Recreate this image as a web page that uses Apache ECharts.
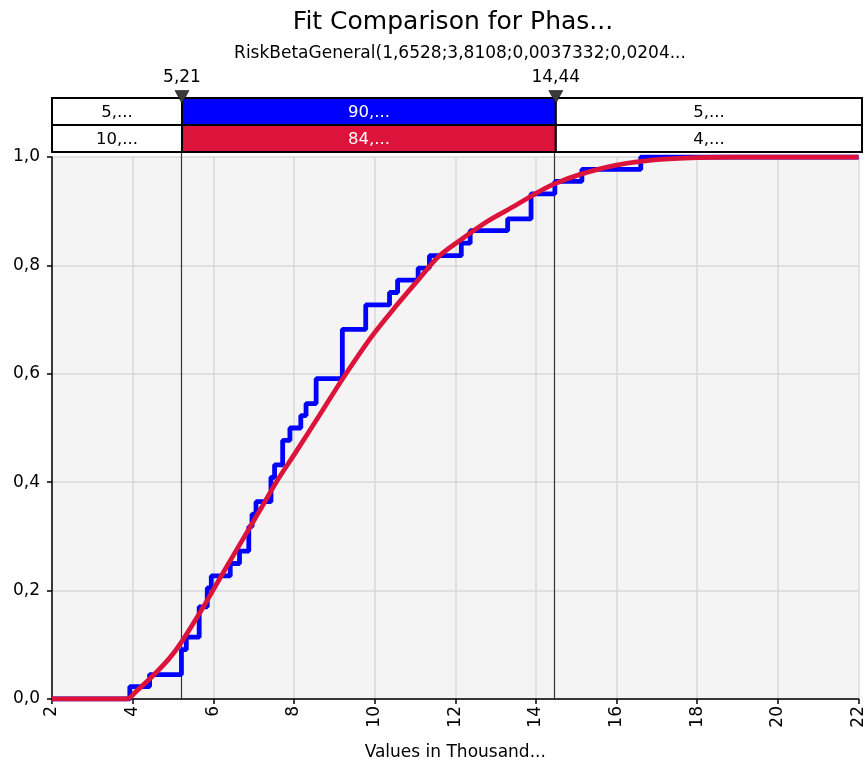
<!DOCTYPE html>
<html>
<head>
<meta charset="utf-8">
<script src="https://cdn.jsdelivr.net/npm/echarts@6/dist/echarts.min.js"></script>
<style>
html, body { margin: 0; padding: 0; background: #fff; }
#main { width: 867px; height: 766px; }
</style>
</head>
<body>
<div id="main"></div>
<script>
const inputX = [2, 3.93, 4.42, 5.21, 5.33, 5.65, 5.85, 5.95, 6.42, 6.65, 6.88, 6.96, 7.06, 7.43, 7.52, 7.72, 7.9, 8.17, 8.3, 8.55, 9.2, 9.78, 10.37, 10.57, 11.08, 11.36, 12.15, 12.37, 13.3, 13.88, 14.47, 15.14, 16.6, 22];
const inputY = [0, 0.023, 0.045, 0.091, 0.114, 0.17, 0.205, 0.227, 0.25, 0.273, 0.318, 0.341, 0.364, 0.409, 0.432, 0.477, 0.5, 0.523, 0.545, 0.591, 0.682, 0.727, 0.75, 0.773, 0.795, 0.818, 0.841, 0.864, 0.886, 0.932, 0.955, 0.977, 1, 1];

// fitted curve, sampled by eye
const fitX = [2, 3.85, 4.1, 4.49, 4.91, 5.21, 5.73, 6.15, 6.64, 7.21, 7.56, 8.05, 8.62, 9.2, 9.93, 10.52, 11.09, 11.58, 12.15, 12.81, 13.48, 14.0, 14.44, 15.1, 16, 17, 18, 19, 22];
const fitY = [0, 0, 0.015, 0.042, 0.075, 0.105, 0.167, 0.221, 0.283, 0.355, 0.4, 0.456, 0.522, 0.59, 0.669, 0.724, 0.774, 0.816, 0.848, 0.882, 0.91, 0.933, 0.95, 0.968, 0.985, 0.995, 0.999, 1, 1];

const cutoffs = [5.21, 14.44];
const cutoffLabels = ['5,21', '14,44'];
const inputShares = ['5,...', '90,...', '5,...'];
const fitShares = ['10,...', '84,...', '4,...'];
const xTicks = [2, 4, 6, 8, 10, 12, 14, 16, 18, 20, 22];

const BLUE = '#0000FF';
const RED = '#DC143C';
const FONT = 'DejaVu Sans';

const pairs = (xs, ys) => xs.map((x, i) => [x, ys[i]]);

// band cells: [from, to, row, column]
const edges = [xTicks[0], cutoffs[0], cutoffs[1], xTicks[xTicks.length - 1]];
const bandCells = [];
[inputShares, fitShares].forEach((row, r) => {
  row.forEach((txt, c) => bandCells.push([edges[c], edges[c + 1], r, c]));
});

const chart = echarts.init(document.getElementById('main'), null, { renderer: 'canvas' });

const option = {
  animation: false,
  title: [
    {
      text: 'Fit Comparison for Phas...',
      left: 448, top: 5, textAlign: 'center',
      textStyle: { fontFamily: FONT, fontSize: 25, fontWeight: 'normal', color: '#000' }
    },
    {
      text: 'RiskBetaGeneral(1,6528;3,8108;0,0037332;0,0204...',
      left: 455, top: 40, textAlign: 'center',
      textStyle: { fontFamily: FONT, fontSize: 17, fontWeight: 'normal', color: '#000' }
    }
  ],
  grid: [
    { left: 52, top: 157, width: 810, height: 544, show: true, backgroundColor: '#F4F4F4', borderWidth: 0 },
    { left: 52, top: 98, width: 810, height: 54, show: false }
  ],
  xAxis: [
    {
      gridIndex: 0, type: 'value', min: 2, max: 22, interval: 2,
      name: 'Values in Thousand...', nameLocation: 'middle', nameGap: 45,
      nameTextStyle: { fontFamily: FONT, fontSize: 17, color: '#000' },
      axisLine: { lineStyle: { color: '#000', width: 1.5 } },
      axisTick: { show: true, length: 5, lineStyle: { color: '#000', width: 1.5 } },
      axisLabel: { rotate: 90, margin: 7, fontFamily: FONT, fontSize: 17, color: '#000' },
      splitLine: { show: true, lineStyle: { color: '#D9D9D9', width: 1.5 } }
    },
    { gridIndex: 1, type: 'value', min: 2, max: 22, show: false }
  ],
  yAxis: [
    {
      gridIndex: 0, type: 'value', min: 0, max: 1, interval: 0.2,
      axisLine: { show: true, lineStyle: { color: '#000', width: 1.5 } },
      axisTick: { show: true, length: 5, lineStyle: { color: '#000', width: 1.5 } },
      axisLabel: {
        margin: 12, fontFamily: FONT, fontSize: 17, color: '#000',
        formatter: v => v.toFixed(1).replace('.', ',')
      },
      splitLine: { show: true, lineStyle: { color: '#D9D9D9', width: 1.5 } }
    },
    { gridIndex: 1, type: 'value', min: 0, max: 2, inverse: true, show: false }
  ],
  series: [
    {
      type: 'custom', xAxisIndex: 0, yAxisIndex: 0, z: 1, silent: true,
      data: cutoffs.map(c => [c]),
      renderItem(params, api) {
        const p0 = api.coord([api.value(0), 0]);
        const p1 = api.coord([api.value(0), 1]);
        return {
          type: 'line',
          shape: { x1: Math.round(p0[0]) + 0.5, y1: p0[1], x2: Math.round(p0[0]) + 0.5, y2: p1[1] - 6 },
          style: { stroke: '#333', lineWidth: 1.2 }
        };
      }
    },
    {
      name: 'Input', type: 'line', xAxisIndex: 0, yAxisIndex: 0, z: 3,
      data: pairs(inputX, inputY), step: 'end', showSymbol: false,
      lineStyle: { color: BLUE, width: 4.8 }, itemStyle: { color: BLUE }
    },
    {
      name: 'Fit', type: 'line', xAxisIndex: 0, yAxisIndex: 0, z: 4,
      data: pairs(fitX, fitY), smooth: 0.3, showSymbol: false,
      lineStyle: { color: RED, width: 4.8 }, itemStyle: { color: RED }
    },
    {
      type: 'custom', xAxisIndex: 1, yAxisIndex: 1, z: 5, silent: true,
      data: bandCells,
      renderItem(params, api) {
        const row = api.value(2);
        const col = api.value(3);
        const p0 = api.coord([api.value(0), row]);
        const p1 = api.coord([api.value(1), row + 1]);
        const mid = col === 1;
        const fill = mid ? (row === 0 ? BLUE : RED) : '#fff';
        const txt = (row === 0 ? inputShares : fitShares)[col];
        return {
          type: 'group',
          children: [
            {
              type: 'rect',
              shape: { x: p0[0], y: p0[1], width: p1[0] - p0[0], height: p1[1] - p0[1] },
              style: { fill: fill, stroke: '#000', lineWidth: 2 }
            },
            {
              type: 'text',
              x: (p0[0] + p1[0]) / 2, y: (p0[1] + p1[1]) / 2 + 1,
              style: {
                text: txt, fill: mid ? '#fff' : '#000',
                font: '16.5px "' + FONT + '"', align: 'center', verticalAlign: 'middle'
              }
            }
          ]
        };
      }
    },
    {
      type: 'scatter', xAxisIndex: 1, yAxisIndex: 1, z: 6, silent: true,
      data: cutoffs.map(c => [c, 0]),
      symbol: 'triangle', symbolRotate: 180, symbolSize: [14, 13], symbolOffset: [0, -1],
      itemStyle: { color: '#3A3A3A', borderColor: '#000', borderWidth: 0.5, opacity: 1 },
      label: {
        show: true, position: 'top', distance: 4,
        fontFamily: FONT, fontSize: 17, color: '#000',
        formatter: p => cutoffLabels[p.dataIndex]
      }
    }
  ]
};

chart.setOption(option);
</script>
</body>
</html>
